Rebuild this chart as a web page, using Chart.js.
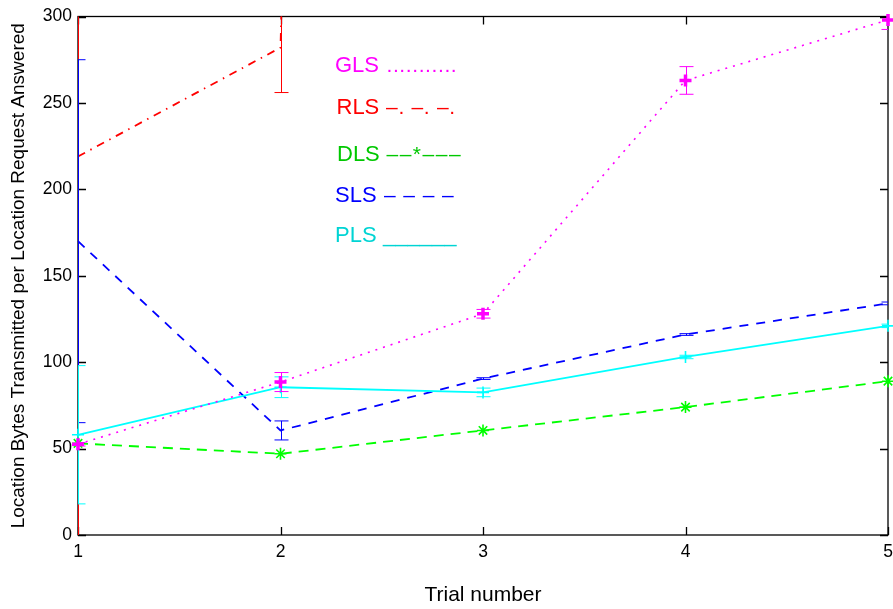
<!DOCTYPE html>
<html>
<head>
<meta charset="utf-8">
<title>Location bytes per answered request</title>
<script src="https://cdn.jsdelivr.net/npm/chart.js@4/dist/chart.umd.min.js"></script>
<style>
  html, body { margin: 0; padding: 0; background: #fff; }
  canvas { display: block; }
</style>
</head>
<body>
<canvas id="bytesChart" width="893" height="609"></canvas>
<script>
// Trial numbers on the x axis
const trials = [1, 2, 3, 4, 5];

// Mean bytes per answered request, and half-length of each error bar
const glsBytes = [52.5, 88.5, 128, 263, 298];
const glsErr   = [1, 5.5, 2.5, 8, 5.5];

const rlsBytes = [219, 282, 5000, null, null];
const rlsErr   = [225, 26, 0, 0, 0];

const dlsBytes = [53, 47, 60.5, 74, 89];
const dlsErr   = [0, 0, 0, 0, 0];

const slsBytes = [170, 60.5, 90.5, 116, 134];
const slsErr   = [105, 5.5, 0.5, 0.5, 0.8];

const plsBytes = [58, 85.5, 82.5, 103, 121];
const plsErr   = [40, 6, 2.5, 1, 1];

// Text key written inside the axes
const keyNames   = ['GLS', 'RLS', 'DLS', 'SLS', 'PLS'];
const keySymbols = ['...........', '\u2013. \u2013. \u2013.', '\u2013\u2013*\u2013\u2013\u2013', '\u2013 \u2013 \u2013 \u2013', '______'];

const yTicks = [0, 50, 100, 150, 200, 250, 300];

const FONT = "'Liberation Sans', Arial, Helvetica, sans-serif";

function toPoints(values) {
    return trials.map((t, i) => ({ x: t, y: values[i] }));
}

// Box around the axes with inward tick marks on all four sides
const axesBox = {
    id: 'axesBox',
    beforeDatasetsDraw(chart) {
        const { ctx, chartArea: a, scales: { x, y } } = chart;
        const len = 8;
        ctx.save();
        ctx.strokeStyle = '#000';
        ctx.lineWidth = 1.3;
        ctx.strokeRect(a.left, a.top, a.right - a.left, a.bottom - a.top);
        ctx.beginPath();
        trials.forEach(t => {
            const px = Math.round(x.getPixelForValue(t)) + 0.5;
            ctx.moveTo(px, a.bottom); ctx.lineTo(px, a.bottom - len);
            ctx.moveTo(px, a.top); ctx.lineTo(px, a.top + len);
        });
        yTicks.forEach(v => {
            const py = Math.round(y.getPixelForValue(v)) + 0.5;
            ctx.moveTo(a.left, py); ctx.lineTo(a.left + len, py);
            ctx.moveTo(a.right, py); ctx.lineTo(a.right - len, py);
        });
        ctx.stroke();
        ctx.restore();
    }
};

// Vertical error bars with caps, drawn right after their own series
const errorBars = {
    id: 'errorBars',
    afterDatasetDraw(chart, args) {
        const ds = chart.data.datasets[args.index];
        if (!ds.err) return;
        const { ctx, chartArea: a, scales: { x, y } } = chart;
        const cap = 7;
        ctx.save();
        ctx.beginPath();
        ctx.rect(a.left, a.top, a.right - a.left, a.bottom - a.top);
        ctx.clip();
        ctx.strokeStyle = ds.borderColor;
        ctx.lineWidth = 1;
        ctx.beginPath();
        ds.data.forEach((p, i) => {
            const e = ds.err[i];
            if (p.y == null || !e) return;
            const px = Math.round(x.getPixelForValue(p.x)) + 0.5;
            const hi = y.getPixelForValue(p.y + e);
            const lo = y.getPixelForValue(p.y - e);
            ctx.moveTo(px, hi); ctx.lineTo(px, lo);
            ctx.moveTo(px - cap, hi); ctx.lineTo(px + cap, hi);
            ctx.moveTo(px - cap, lo); ctx.lineTo(px + cap, lo);
        });
        ctx.stroke();
        ctx.restore();
    }
};

// Coloured text key: name followed by a typed line sample
const textKey = {
    id: 'textKey',
    afterDatasetsDraw(chart) {
        const { ctx } = chart;
        const colors = ['#ff00ff', '#ff0000', '#00c800', '#0000ff', '#00d4d4'];
        const rows = [
            { x: 335,   y: 71.5,  sx: 386.5, size: 21, gap: 0.6 },
            { x: 336.5, y: 114,   sx: 386,   size: 21, gap: 0.7 },
            { x: 337,   y: 160.5, sx: 386.5, size: 21, gap: 1.5 },
            { x: 335,   y: 202,   sx: 384,   size: 21, gap: 0.9 },
            { x: 335,   y: 241.5, sx: 383,   size: 22, gap: 0 }
        ];
        ctx.save();
        ctx.textBaseline = 'alphabetic';
        ctx.textAlign = 'left';
        keyNames.forEach((name, i) => {
            const r = rows[i];
            ctx.fillStyle = colors[i];
            ctx.letterSpacing = '0px';
            ctx.font = '22px ' + FONT;
            ctx.fillText(name, r.x, r.y);
            ctx.letterSpacing = r.gap + 'px';
            ctx.font = r.size + 'px ' + FONT;
            ctx.fillText(keySymbols[i], r.sx, r.y);
        });
        ctx.restore();
    }
};

const markerClip = { left: 12, right: 12, top: 4, bottom: 12 };

const ctx = document.getElementById('bytesChart').getContext('2d');

new Chart(ctx, {
    type: 'line',
    data: {
        // first dataset ends up on top
        datasets: [
            {
                label: 'GLS',
                data: toPoints(glsBytes),
                err: glsErr,
                borderColor: '#ff00ff',
                backgroundColor: '#ff00ff',
                borderWidth: 1.6,
                borderDash: [2, 6],
                pointStyle: 'cross',
                pointRadius: 6,
                pointBorderWidth: 3.5,
                clip: markerClip
            },
            {
                label: 'DLS',
                data: toPoints(dlsBytes),
                err: dlsErr,
                borderColor: '#00ff00',
                backgroundColor: '#00ff00',
                borderWidth: 1.8,
                borderDash: [10, 7],
                pointStyle: 'star',
                pointRadius: 6,
                pointBorderWidth: 1.6,
                clip: markerClip
            },
            {
                label: 'PLS',
                data: toPoints(plsBytes),
                err: plsErr,
                borderColor: '#00ffff',
                backgroundColor: '#00ffff',
                borderWidth: 1.8,
                pointStyle: 'cross',
                pointRadius: 6,
                pointBorderWidth: 1.6,
                clip: markerClip
            },
            {
                label: 'SLS',
                data: toPoints(slsBytes),
                err: slsErr,
                borderColor: '#0000ff',
                backgroundColor: '#0000ff',
                borderWidth: 1.8,
                borderDash: [9, 8],
                pointRadius: 0,
                clip: markerClip
            },
            {
                label: 'RLS',
                data: toPoints(rlsBytes),
                err: rlsErr,
                borderColor: '#ff0000',
                backgroundColor: '#ff0000',
                borderWidth: 1.8,
                borderDash: [8, 6, 1.5, 6],
                pointRadius: 0,
                clip: { left: 0, right: 0, top: 0, bottom: 0 }
            }
        ]
    },
    options: {
        responsive: false,
        animation: false,
        devicePixelRatio: 1,
        // markers may hang over the box, so no automatic room for them
        layout: { autoPadding: false, padding: { top: 16, right: 5, left: 0, bottom: 0 } },
        plugins: {
            legend: { display: false },
            tooltip: { enabled: false }
        },
        elements: { line: { tension: 0 } },
        scales: {
            x: {
                type: 'linear',
                min: 1,
                max: 5,
                // fixed height, and no extra room kept for the last tick label
                afterFit: s => {
                    s.height = 74;
                    s.paddingLeft = 0;
                    s.paddingRight = 0;
                },
                grid: { display: false, drawTicks: false },
                border: { display: false },
                ticks: {
                    stepSize: 1,
                    padding: 7,
                    color: '#000',
                    font: { family: FONT, size: 17.5 }
                },
                title: {
                    display: true,
                    text: 'Trial number',
                    color: '#000',
                    font: { family: FONT, size: 21 },
                    padding: { top: 1, bottom: 1 }
                }
            },
            y: {
                min: 0,
                max: 300,
                afterFit: s => { s.width = 78; },
                grid: { display: false, drawTicks: false },
                border: { display: false },
                ticks: {
                    stepSize: 50,
                    padding: 6,
                    color: '#000',
                    font: { family: FONT, size: 17.5 }
                },
                title: {
                    display: true,
                    text: 'Location Bytes Transmitted per Location Request Answered',
                    color: '#000',
                    font: { family: FONT, size: 19 },
                    padding: { top: 7, bottom: 7 }
                }
            }
        }
    },
    plugins: [axesBox, errorBars, textKey]
});
</script>
</body>
</html>
